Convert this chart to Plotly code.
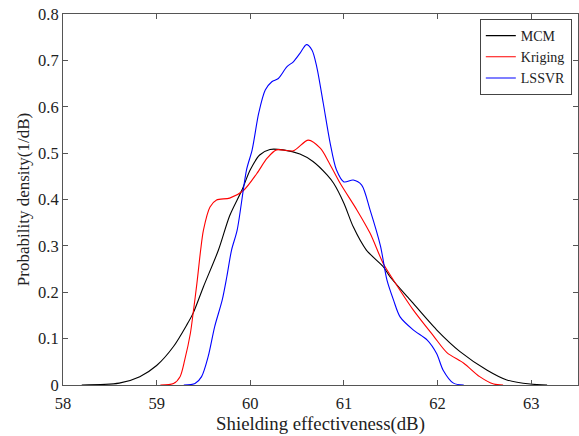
import plotly.graph_objects as go

# MCM (black)
mcm_x = [58.2, 58.6, 58.82, 59.0, 59.18, 59.32, 59.39, 59.5, 59.66, 59.78, 59.91, 60.0, 60.1, 60.21,
         60.35, 60.53, 60.67, 60.82, 60.89, 61.0, 61.1, 61.24, 61.42, 61.49, 61.71, 61.99, 62.24,
         62.53, 62.74, 62.99, 63.17]
mcm_y = [0, 0.004, 0.018, 0.042, 0.083, 0.129, 0.155, 0.212, 0.291, 0.365, 0.42, 0.464, 0.496, 0.508,
         0.507, 0.498, 0.482, 0.453, 0.435, 0.392, 0.341, 0.291, 0.255, 0.234, 0.183, 0.119, 0.072,
         0.032, 0.011, 0.002, 0]

# Kriging (red)
krig_x = [59.04, 59.18, 59.25, 59.30, 59.36, 59.39, 59.43, 59.47, 59.50, 59.57, 59.64, 59.78, 59.93,
          60.07, 60.18, 60.28, 60.46, 60.62, 60.75, 60.84, 60.96, 61.14, 61.28, 61.42, 61.53, 61.74,
          61.96, 62.10, 62.28, 62.45, 62.60, 62.70]
krig_y = [0, 0.003, 0.018, 0.054, 0.111, 0.155, 0.219, 0.291, 0.334, 0.384, 0.399, 0.403, 0.42,
          0.456, 0.489, 0.507, 0.505, 0.528, 0.51, 0.48, 0.435, 0.377, 0.327, 0.262, 0.226, 0.162,
          0.105, 0.07, 0.047, 0.018, 0.002, 0]

# LSSVR (blue)
lssvr_x = [59.29, 59.41, 59.48, 59.55, 59.62, 59.70, 59.75, 59.80, 59.86, 59.96, 60.02, 60.09, 60.16,
           60.23, 60.30, 60.39, 60.46, 60.53, 60.60, 60.66, 60.71, 60.78, 60.85, 60.92, 61.0, 61.1,
           61.19, 61.28, 61.39, 61.46, 61.53, 61.60, 61.74, 61.89, 61.99, 62.06, 62.17, 62.28]
lssvr_y = [0, 0.003, 0.018, 0.061, 0.126, 0.183, 0.234, 0.291, 0.334, 0.464, 0.507, 0.586, 0.636,
           0.654, 0.661, 0.686, 0.697, 0.715, 0.734, 0.722, 0.686, 0.607, 0.525, 0.464, 0.438, 0.442,
           0.431, 0.377, 0.30, 0.226, 0.183, 0.147, 0.119, 0.097, 0.068, 0.032, 0.004, 0]

x_ticks = [58, 59, 60, 61, 62, 63]
y_ticks = [0, 0.1, 0.2, 0.3, 0.4, 0.5, 0.6, 0.7, 0.8]
y_tick_text = ["0", "0.1", "0.2", "0.3", "0.4", "0.5", "0.6", "0.7", "0.8"]

FONT = "Liberation Serif"

fig = go.Figure()
for xs, ys, name, col in [(mcm_x, mcm_y, "MCM", "#000000"),
                          (krig_x, krig_y, "Kriging", "#ff0000"),
                          (lssvr_x, lssvr_y, "LSSVR", "#0000ff")]:
    fig.add_trace(go.Scatter(x=xs, y=ys, mode="lines", name=name,
                             line=dict(color=col, width=1.1, shape="spline", smoothing=0.8)))

axis_common = dict(showline=True, linecolor="#555555", linewidth=1, mirror="ticks",
                   ticks="inside", ticklen=5, tickcolor="#555555", showgrid=False, zeroline=False,
                   tickfont=dict(family=FONT, size=16.5, color="#222222"))

fig.update_xaxes(range=[58, 63.5], tickvals=x_ticks, ticktext=[str(v) for v in x_ticks],
                 ticklabelstandoff=3,
                 title=dict(text="Shielding effectiveness(dB)", font=dict(family=FONT, size=18.8, color="#222222"),
                            standoff=1),
                 **axis_common)
fig.update_yaxes(range=[0, 0.8], tickvals=y_ticks, ticktext=y_tick_text,
                 title=dict(text="Probability density(1/dB)", font=dict(family=FONT, size=17, color="#222222"),
                            standoff=4),
                 **axis_common)

fig.update_layout(
    width=579, height=436,
    margin=dict(l=63, r=1, t=14, b=51),
    paper_bgcolor="white", plot_bgcolor="white",
    font=dict(family=FONT, size=16, color="#222222"),
    legend=dict(x=0.988, y=0.9865, xanchor="right", yanchor="top",
                bordercolor="#444444", borderwidth=1, bgcolor="white",
                font=dict(family=FONT, size=14, color="#222222"),
                tracegroupgap=0, itemwidth=30),
    showlegend=True,
)

fig.write_html("out.html", config={"displayModeBar": False},
               post_script="document.body.style.margin='0';")
